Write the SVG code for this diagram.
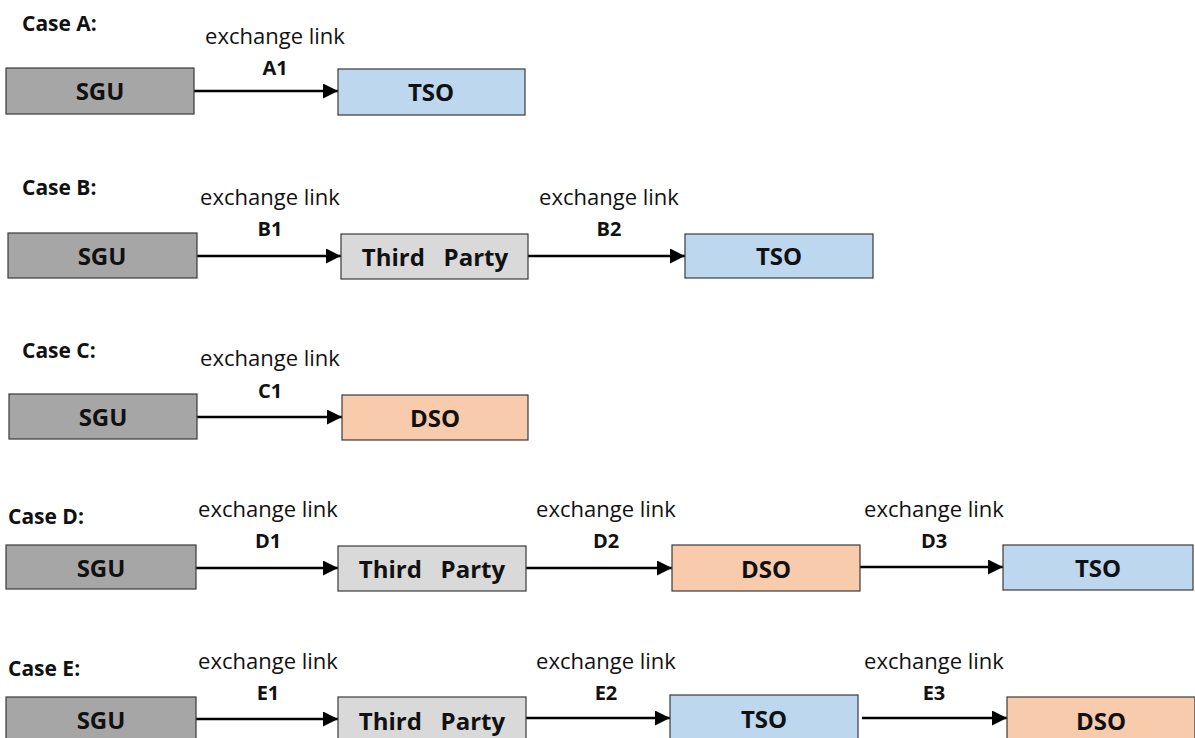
<svg xmlns="http://www.w3.org/2000/svg" width="1195" height="738" viewBox="0 0 1195 738">
<style>
.box{stroke:#3a3a3a;stroke-width:1.2}
.sgu{fill:#a6a6a6}.tp{fill:#d9d9d9}.tso{fill:#bdd7ee}.dso{fill:#f8cbad}
.lbl{font-family:"Open Sans","Noto Sans",sans-serif;font-weight:bold;font-size:24px;fill:#111;text-anchor:middle;white-space:pre}
.case{font-family:"Open Sans","Noto Sans",sans-serif;font-weight:bold;font-size:21px;fill:#111}
.ex{font-family:"Open Sans","Noto Sans",sans-serif;font-size:22px;fill:#111;text-anchor:middle}
.id{font-family:"Open Sans","Noto Sans",sans-serif;font-weight:bold;font-size:20px;fill:#111;text-anchor:middle}
.conn{stroke:#000;stroke-width:2.5;fill:none;marker-end:url(#ah)}
</style>
<defs>
<marker id="ah" viewBox="0 0 10 10" refX="10" refY="5" markerWidth="17" markerHeight="15" orient="auto" markerUnits="userSpaceOnUse"><path d="M0,0 L10,5 L0,10 z" fill="#000"/></marker>
</defs>
<g id="case-labels">
<text class="case" x="22" y="31">Case A:</text>
<text class="case" x="22" y="195">Case B:</text>
<text class="case" x="22" y="358">Case C:</text>
<text class="case" x="8" y="524">Case D:</text>
<text class="case" x="8" y="676">Case E:</text>
</g>
<g id="connectors">
<path class="conn" d="M194,91 H338"/>
<path class="conn" d="M197,256 H341"/>
<path class="conn" d="M528,256 H685"/>
<path class="conn" d="M197,417 H342"/>
<path class="conn" d="M196,568 H338"/>
<path class="conn" d="M526,568 H672"/>
<path class="conn" d="M860,567 H1003"/>
<path class="conn" d="M196,719 H338"/>
<path class="conn" d="M526,718 H670"/>
<path class="conn" d="M862,718 H1007"/>
</g>
<g id="link-labels">
<text class="ex" x="275" y="44">exchange link</text><text class="id" x="275" y="75">A1</text>
<text class="ex" x="270" y="205">exchange link</text><text class="id" x="270" y="236">B1</text>
<text class="ex" x="609" y="205">exchange link</text><text class="id" x="609" y="236">B2</text>
<text class="ex" x="270" y="366">exchange link</text><text class="id" x="270" y="398">C1</text>
<text class="ex" x="268" y="517">exchange link</text><text class="id" x="268" y="548">D1</text>
<text class="ex" x="606" y="517">exchange link</text><text class="id" x="606" y="548">D2</text>
<text class="ex" x="934" y="517">exchange link</text><text class="id" x="934" y="548">D3</text>
<text class="ex" x="268" y="669">exchange link</text><text class="id" x="268" y="700">E1</text>
<text class="ex" x="606" y="669">exchange link</text><text class="id" x="606" y="700">E2</text>
<text class="ex" x="934" y="669">exchange link</text><text class="id" x="934" y="700">E3</text>
</g>
<g id="a-sgu"><rect class="box sgu" x="6" y="68" width="188" height="46"/><text class="lbl" x="100" y="100">SGU</text></g>
<g id="a-tso"><rect class="box tso" x="338" y="69" width="187" height="46"/><text class="lbl" x="431" y="101">TSO</text></g>
<g id="b-sgu"><rect class="box sgu" x="8" y="233" width="189" height="45"/><text class="lbl" x="102" y="265">SGU</text></g>
<g id="b-tp"><rect class="box tp" x="341" y="234" width="187" height="45"/><text class="lbl" x="435" y="266">Third   Party</text></g>
<g id="b-tso"><rect class="box tso" x="685" y="234" width="188" height="44"/><text class="lbl" x="779" y="265">TSO</text></g>
<g id="c-sgu"><rect class="box sgu" x="9" y="394" width="188" height="45"/><text class="lbl" x="103" y="426">SGU</text></g>
<g id="c-dso"><rect class="box dso" x="342" y="395" width="186" height="45"/><text class="lbl" x="435" y="427">DSO</text></g>
<g id="d-sgu"><rect class="box sgu" x="6" y="545" width="190" height="44"/><text class="lbl" x="101" y="577">SGU</text></g>
<g id="d-tp"><rect class="box tp" x="338" y="546" width="188" height="45"/><text class="lbl" x="432" y="578">Third   Party</text></g>
<g id="d-dso"><rect class="box dso" x="672" y="545" width="188" height="46"/><text class="lbl" x="766" y="578">DSO</text></g>
<g id="d-tso"><rect class="box tso" x="1003" y="545" width="190" height="45"/><text class="lbl" x="1098" y="577">TSO</text></g>
<g id="e-sgu"><rect class="box sgu" x="6" y="697" width="190" height="45"/><text class="lbl" x="101" y="729">SGU</text></g>
<g id="e-tp"><rect class="box tp" x="338" y="697" width="188" height="45"/><text class="lbl" x="432" y="730">Third   Party</text></g>
<g id="e-tso"><rect class="box tso" x="670" y="695" width="188" height="47"/><text class="lbl" x="764" y="728">TSO</text></g>
<g id="e-dso"><rect class="box dso" x="1007" y="697" width="188" height="45"/><text class="lbl" x="1101" y="730">DSO</text></g>
</svg>
